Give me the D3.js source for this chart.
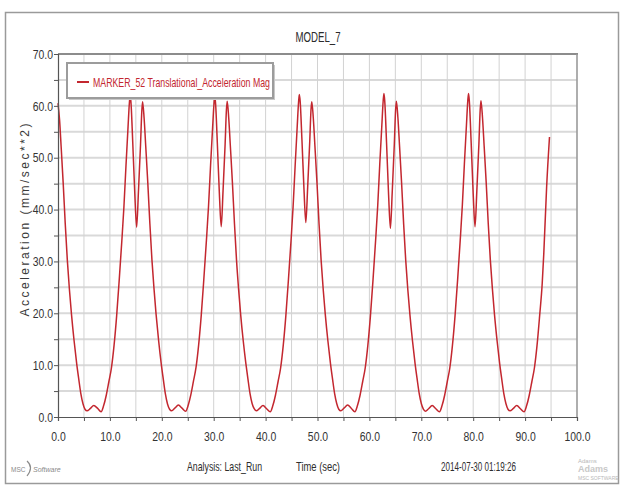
<!DOCTYPE html>
<html>
<head>
<meta charset="utf-8">
<script src="https://cdn.jsdelivr.net/npm/d3@7"></script>
<style>
  html, body { margin: 0; padding: 0; background: #fff; }
  svg { display: block; }
  .narrow { font-family: "Liberation Sans", Arial, sans-serif; }
</style>
</head>
<body>
<svg id="chart" width="626" height="487"></svg>
<script>
// ---------------- data ----------------
const chartTitle = "MODEL_7";
const seriesName = "MARKER_52 Translational_Acceleration Mag";
const yAxisTitle = "Acceleration (mm/sec**2)";
const footerAnalysis = "Analysis:  Last_Run";
const footerXTitle = "Time (sec)";
const footerDate = "2014-07-30 01:19:26";

const xTickValues = [0, 10, 20, 30, 40, 50, 60, 70, 80, 90, 100];
const xTickLabels = ["0.0", "10.0", "20.0", "30.0", "40.0", "50.0", "60.0", "70.0", "80.0", "90.0", "100.0"];
const yTickValues = [0, 10, 20, 30, 40, 50, 60, 70];
const yTickLabels = ["0.0", "10.0", "20.0", "30.0", "40.0", "50.0", "60.0", "70.0"];
const minorStep = 5;

// time (sec) per cycle
const time0 = [0.0, 0.3, 0.6, 1.0, 1.4, 1.8, 2.2, 2.6, 3.1, 3.6, 4.0, 4.4, 4.8, 5.2, 5.6, 6.2, 6.9, 7.6, 8.3, 8.8, 9.3, 9.8, 10.3, 10.8, 11.3, 11.8, 12.3, 12.7, 13.1, 13.5, 13.75, 13.9, 14.05, 14.4, 14.8, 15.15, 15.5, 15.9, 16.15];
const time1 = [16.3, 16.6, 16.9, 17.3, 17.7, 18.1, 18.5, 18.9, 19.4, 19.9, 20.3, 20.7, 21.1, 21.5, 21.9, 22.5, 23.2, 23.9, 24.6, 25.1, 25.6, 26.1, 26.6, 27.1, 27.6, 28.1, 28.6, 29.0, 29.4, 29.8, 30.05, 30.2, 30.35, 30.7, 31.1, 31.45, 31.8, 32.2, 32.45];
const time2 = [32.6, 32.9, 33.2, 33.6, 34.0, 34.4, 34.8, 35.2, 35.7, 36.2, 36.6, 37.0, 37.4, 37.8, 38.2, 38.8, 39.5, 40.2, 40.9, 41.4, 41.9, 42.4, 42.9, 43.4, 43.9, 44.4, 44.9, 45.3, 45.7, 46.1, 46.35, 46.5, 46.65, 47.0, 47.4, 47.75, 48.1, 48.5, 48.75];
const time3 = [48.9, 49.2, 49.5, 49.9, 50.3, 50.7, 51.1, 51.5, 52.0, 52.5, 52.9, 53.3, 53.7, 54.1, 54.5, 55.1, 55.8, 56.5, 57.2, 57.7, 58.2, 58.7, 59.2, 59.7, 60.2, 60.7, 61.2, 61.6, 62.0, 62.4, 62.65, 62.8, 62.95, 63.3, 63.7, 64.05, 64.4, 64.8, 65.05];
const time4 = [65.2, 65.5, 65.8, 66.2, 66.6, 67.0, 67.4, 67.8, 68.3, 68.8, 69.2, 69.6, 70.0, 70.4, 70.8, 71.4, 72.1, 72.8, 73.5, 74.0, 74.5, 75.0, 75.5, 76.0, 76.5, 77.0, 77.5, 77.9, 78.3, 78.7, 78.95, 79.1, 79.25, 79.6, 80.0, 80.35, 80.7, 81.1, 81.35];
const time5 = [81.5, 81.8, 82.1, 82.5, 82.9, 83.3, 83.7, 84.1, 84.6, 85.1, 85.5, 85.9, 86.3, 86.7, 87.1, 87.7, 88.4, 89.1, 89.8, 90.3, 90.8, 91.3, 91.8, 92.3, 92.8, 93.3, 93.6, 94.15, 94.7];

// acceleration magnitude (mm/sec**2) per cycle
const accel0 = [60.5, 57.3, 52.2, 45.1, 37.2, 30.2, 24.6, 19.8, 14.7, 10.3, 7.3, 4.5, 2.6, 1.5, 1.2, 1.6, 2.2, 1.7, 1.0, 2.2, 4.2, 6.8, 9.5, 13.8, 19.5, 26.5, 34.0, 40.5, 48.5, 56.0, 60.5, 62.0, 60.8, 53.0, 43.0, 36.6, 43.5, 52.5, 59.0];
const accel1 = [60.8, 57.5, 52.3, 45.2, 37.3, 30.3, 24.7, 19.8, 14.6, 10.2, 7.2, 4.4, 2.5, 1.5, 1.2, 1.7, 2.3, 1.7, 1.1, 2.3, 4.3, 6.9, 9.6, 13.9, 19.6, 26.6, 34.1, 40.6, 48.6, 56.0, 60.3, 61.8, 60.6, 52.8, 42.9, 36.7, 43.6, 52.6, 59.2];
const accel2 = [60.9, 57.6, 52.4, 45.3, 37.3, 30.2, 24.6, 19.7, 14.6, 10.3, 7.3, 4.5, 2.6, 1.6, 1.2, 1.6, 2.2, 1.6, 1.0, 2.2, 4.2, 6.8, 9.5, 13.8, 19.5, 26.5, 34.0, 40.6, 48.6, 56.2, 60.7, 62.2, 61.0, 53.5, 43.8, 37.5, 44.2, 53.0, 59.3];
const accel3 = [60.8, 57.5, 52.3, 45.2, 37.2, 30.2, 24.6, 19.8, 14.7, 10.3, 7.3, 4.5, 2.6, 1.5, 1.2, 1.7, 2.3, 1.7, 1.0, 2.2, 4.2, 6.8, 9.5, 13.8, 19.5, 26.5, 34.1, 40.7, 48.8, 56.3, 60.9, 62.4, 61.0, 53.0, 42.8, 36.4, 43.4, 52.6, 59.2];
const accel4 = [60.9, 57.6, 52.4, 45.2, 37.2, 30.2, 24.6, 19.8, 14.7, 10.3, 7.3, 4.5, 2.6, 1.5, 1.1, 1.6, 2.2, 1.6, 1.0, 2.2, 4.2, 6.8, 9.5, 13.8, 19.5, 26.5, 34.1, 40.7, 48.8, 56.3, 60.9, 62.4, 61.0, 53.1, 43.0, 36.7, 43.6, 52.7, 59.3];
const accel5 = [61.0, 57.6, 52.4, 45.3, 37.3, 30.3, 24.7, 19.8, 14.7, 10.3, 7.3, 4.5, 2.6, 1.5, 1.2, 1.6, 2.2, 1.6, 1.0, 2.2, 4.2, 6.8, 9.5, 13.8, 19.5, 25.8, 31.5, 44.4, 54.0];

const timeSec = [].concat(time0, time1, time2, time3, time4, time5);
const accelMag = [].concat(accel0, accel1, accel2, accel3, accel4, accel5);

// ---------------- drawing ----------------
const svg = d3.select("#chart");
const W = 626, H = 487;
const plot = { left: 58, right: 577, top: 54, bottom: 417 };
const lineColor = "#c3272f";

const x = d3.scaleLinear().domain([0, 100]).range([plot.left, plot.right]);
const y = d3.scaleLinear().domain([0, 70]).range([plot.bottom, plot.top]);

// outer frame
svg.append("rect").attr("x", 0).attr("y", 0).attr("width", W).attr("height", H).attr("fill", "#fff");
svg.append("rect")
  .attr("x", 5.5).attr("y", 12.5).attr("width", 613).attr("height", 471)
  .attr("fill", "none").attr("stroke", "#9a9a9a").attr("stroke-width", 1.5);

// title
svg.append("text").attr("class", "narrow")
  .attr("x", 318).attr("y", 42)
  .attr("text-anchor", "middle")
  .attr("font-size", 14).attr("fill", "#2b2b2b")
  .attr("textLength", 45).attr("lengthAdjust", "spacingAndGlyphs")
  .text(chartTitle);

// grid
const minorX = d3.range(0, 100 + 0.001, minorStep);
const minorY = d3.range(0, 70 + 0.001, minorStep);
const grid = svg.append("g");
grid.selectAll("line.h").data(minorY.filter(v => v > 0 && v < 70)).join("line")
  .attr("x1", plot.left).attr("x2", plot.right)
  .attr("y1", d => y(d)).attr("y2", d => y(d))
  .attr("stroke", "#d9d9d9").attr("stroke-width", 2);
grid.selectAll("line.v").data(minorX.filter(v => v > 0 && v < 100)).join("line")
  .attr("y1", plot.top).attr("y2", plot.bottom)
  .attr("x1", d => x(d)).attr("x2", d => x(d))
  .attr("stroke", "#d2d2d2").attr("stroke-width", 1);

// plot frame top/right
svg.append("line").attr("x1", plot.left).attr("x2", plot.right + 1)
  .attr("y1", plot.top).attr("y2", plot.top)
  .attr("stroke", "#8c8c8c").attr("stroke-width", 2.2);
svg.append("line").attr("x1", plot.right).attr("x2", plot.right)
  .attr("y1", plot.top).attr("y2", plot.bottom)
  .attr("stroke", "#9a9a9a").attr("stroke-width", 1.6);

// series
const pts = timeSec.map((t, i) => [t, accelMag[i]]);
const line = d3.line().x(d => x(d[0])).y(d => y(d[1])).curve(d3.curveMonotoneX);
svg.append("path").datum(pts)
  .attr("d", line)
  .attr("fill", "none")
  .attr("stroke", lineColor)
  .attr("stroke-width", 1.5)
  .attr("stroke-linejoin", "round");

// axes
const xAxis = d3.axisBottom(x).tickValues(minorX).tickSize(4)
  .tickFormat(d => { const i = xTickValues.indexOf(d); return i >= 0 ? xTickLabels[i] : ""; });
const gx = svg.append("g").attr("transform", `translate(0,${plot.bottom})`).call(xAxis);
gx.select(".domain").attr("stroke", "#555").attr("stroke-width", 1.2);
gx.selectAll(".tick line").attr("stroke", "#555");
gx.selectAll("text").attr("class", "narrow tick-label").attr("font-size", 13).attr("fill", "#333").attr("dy", "1.3em");

const yAxis = d3.axisLeft(y).tickValues(minorY).tickSize(4)
  .tickFormat(d => { const i = yTickValues.indexOf(d); return i >= 0 ? yTickLabels[i] : ""; });
const gy = svg.append("g").attr("transform", `translate(${plot.left},0)`).call(yAxis);
gy.select(".domain").attr("stroke", "#555").attr("stroke-width", 1.2);
gy.selectAll(".tick line").attr("stroke", "#555");
gy.selectAll("text").attr("class", "narrow tick-label").attr("font-size", 13).attr("fill", "#333").attr("x", -5);

// condense tick labels (no Arial Narrow available)
svg.selectAll("text.tick-label").each(function () {
  const w = this.getComputedTextLength();
  if (w > 0) {
    d3.select(this).attr("textLength", (w * 0.8).toFixed(1)).attr("lengthAdjust", "spacingAndGlyphs");
  }
});

// y-axis title
svg.append("text")
  .attr("transform", "translate(29,220) rotate(-90)")
  .attr("text-anchor", "middle")
  .attr("font-family", "Liberation Sans, Arial, sans-serif")
  .attr("font-size", 12).attr("fill", "#3a3a3a")
  .attr("textLength", 193).attr("lengthAdjust", "spacing")
  .text(yAxisTitle);

// legend
const lg = svg.append("g");
lg.append("rect").attr("x", 69).attr("y", 65).attr("width", 206).attr("height", 35)
  .attr("fill", "#c8c8c8");
lg.append("rect").attr("x", 67).attr("y", 63).attr("width", 206).attr("height", 35)
  .attr("fill", "#fff").attr("stroke", "#9c9c9c").attr("stroke-width", 2);
lg.append("line").attr("x1", 77).attr("x2", 89).attr("y1", 82).attr("y2", 82)
  .attr("stroke", lineColor).attr("stroke-width", 2);
lg.append("text").attr("class", "narrow")
  .attr("x", 93).attr("y", 86.5)
  .attr("font-size", 13).attr("fill", lineColor)
  .attr("textLength", 177).attr("lengthAdjust", "spacingAndGlyphs")
  .text(seriesName);

// footer
const foot = svg.append("g").attr("font-size", 13).attr("fill", "#2e2e2e");
foot.append("text").attr("class", "narrow").attr("x", 187).attr("y", 471)
  .attr("textLength", 75).attr("lengthAdjust", "spacingAndGlyphs").text(footerAnalysis);
foot.append("text").attr("class", "narrow").attr("x", 296).attr("y", 471)
  .attr("textLength", 44).attr("lengthAdjust", "spacingAndGlyphs").text(footerXTitle);
foot.append("text").attr("class", "narrow").attr("x", 441).attr("y", 471)
  .attr("textLength", 75).attr("lengthAdjust", "spacingAndGlyphs").text(footerDate);

// MSC Software logo
const logo = svg.append("g").attr("fill", "#8a8a8a").attr("font-family", "Liberation Sans, Arial, sans-serif");
logo.append("text").attr("x", 11).attr("y", 472).attr("font-size", 6.5).text("MSC");
logo.append("path").attr("d", "M27,461 Q34,467 27,476").attr("fill", "none").attr("stroke", "#8a8a8a").attr("stroke-width", 1.2);
logo.append("text").attr("x", 33).attr("y", 472).attr("font-size", 7).attr("font-style", "italic").text("Software");

// Adams logo (faint)
const adams = svg.append("g").attr("fill", "#b8b8b8").attr("font-family", "Liberation Sans, Arial, sans-serif");
adams.append("text").attr("x", 578).attr("y", 463).attr("font-size", 6).text("Adams");
adams.append("text").attr("x", 578).attr("y", 472).attr("font-size", 9).attr("font-weight", "bold").attr("fill", "#c8c8c8").text("Adams");
adams.append("text").attr("x", 578).attr("y", 480).attr("font-size", 5).text("MSC SOFTWARE");
</script>
</body>
</html>
